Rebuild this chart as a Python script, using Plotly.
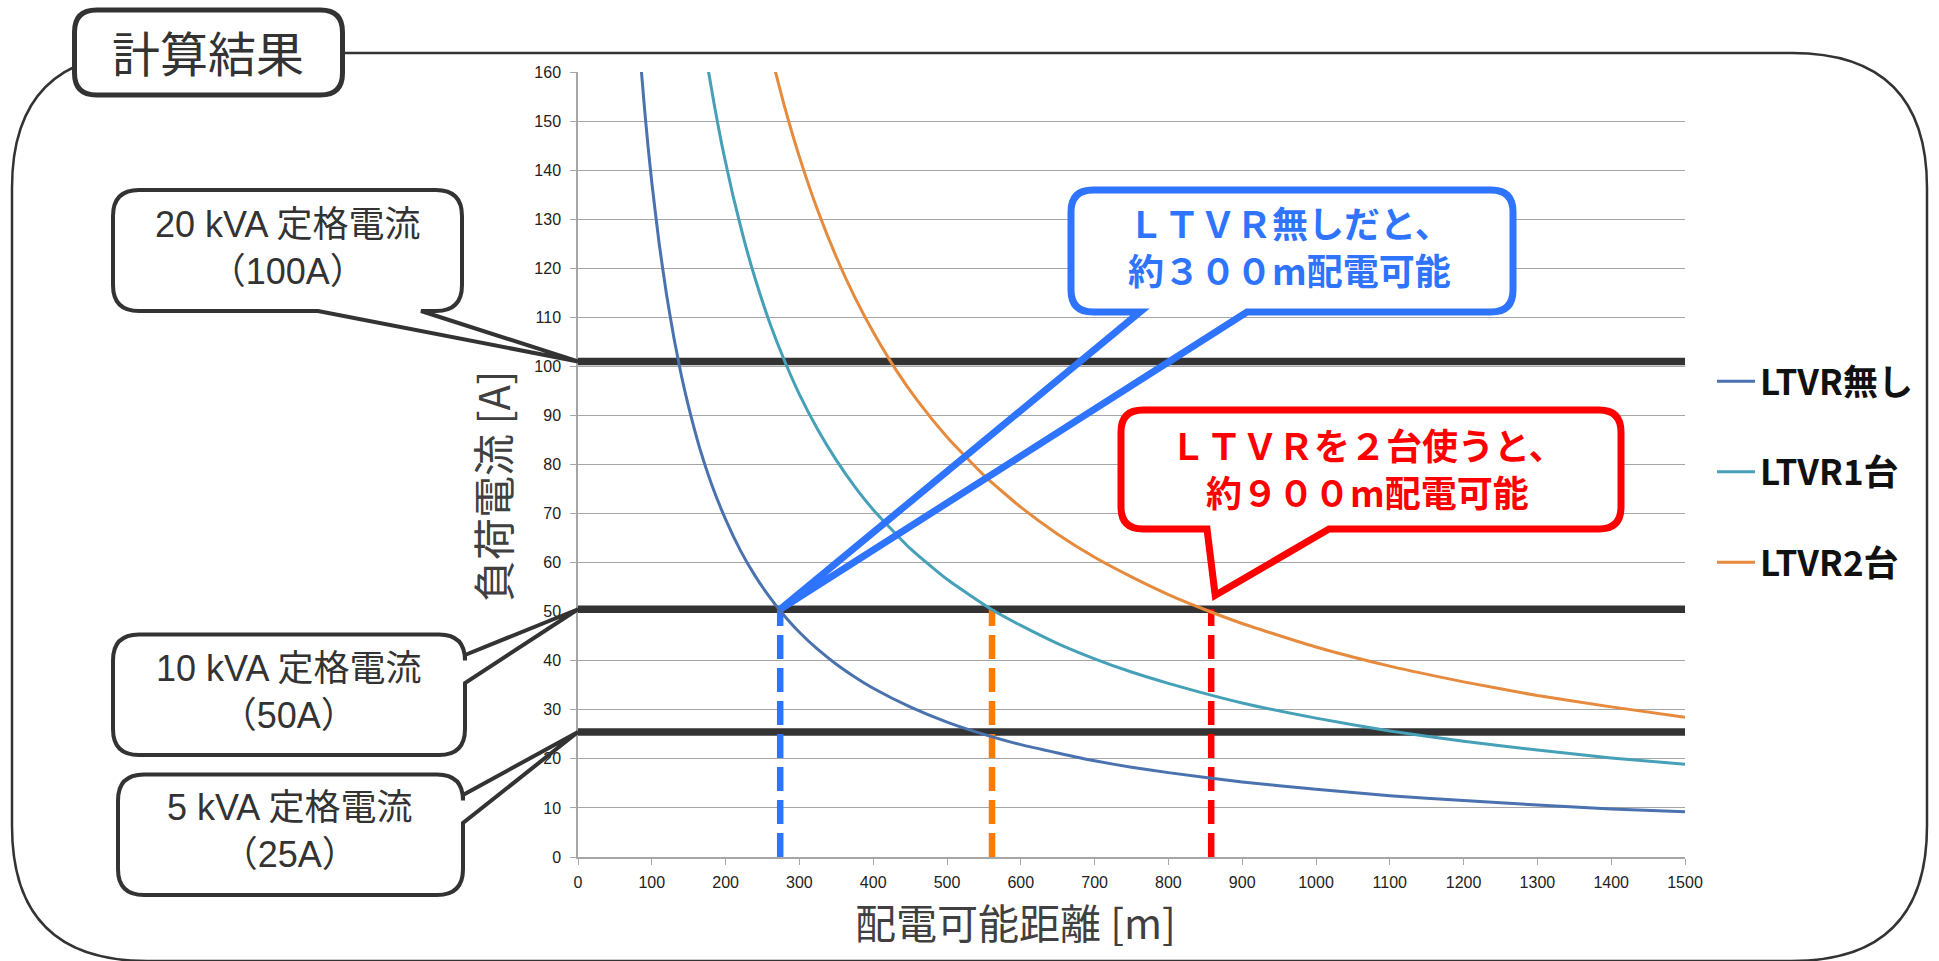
import plotly.graph_objects as go

# ---------------- data ----------------
series_names = ["LTVR無し", "LTVR1台", "LTVR2台"]

dist_none = [85, 90, 95, 100, 110, 120, 130, 140, 150, 165, 180, 200, 220, 240, 260, 275,
             300, 325, 350, 375, 400, 450, 500, 550, 600, 650, 700, 750, 800, 900, 1000,
             1100, 1200, 1300, 1400, 1500]
cur_none = [161.8, 152.8, 144.7, 137.5, 125, 114.6, 105.8, 98.2, 91.7, 83.3, 76.4, 68.8,
            62.5, 57.3, 52.9, 50, 45.8, 42.3, 39.3, 36.7, 34.4, 30.6, 27.5, 25, 22.9, 21.2,
            19.6, 18.3, 17.2, 15.3, 13.8, 12.5, 11.5, 10.6, 9.8, 9.2]

dist_one = [175, 185, 195, 210, 225, 240, 260, 280, 300, 325, 350, 375, 400, 450, 500, 560,
            600, 650, 700, 750, 800, 900, 1000, 1100, 1200, 1300, 1400, 1500]
cur_one = [161.7, 153, 145.1, 134.8, 125.8, 117.9, 108.8, 101.1, 94.3, 87.1, 80.9, 75.5,
           70.8, 62.9, 56.6, 50.5, 47.2, 43.5, 40.4, 37.7, 35.4, 31.4, 28.3, 25.7, 23.6,
           21.8, 20.2, 18.9]

dist_two = [265, 280, 300, 325, 350, 375, 400, 430, 460, 500, 550, 600, 650, 700, 750, 800,
            850, 900, 1000, 1100, 1200, 1300, 1400, 1500]
cur_two = [161.5, 152.9, 142.7, 131.7, 122.3, 114.1, 107, 99.5, 93, 85.6, 77.8, 71.3, 65.8,
           61.1, 57.1, 53.5, 50.4, 47.6, 42.8, 38.9, 35.7, 32.9, 30.6, 28.5]

rated_labels = ["20 kVA 定格電流<br>（100A）", "10 kVA 定格電流<br>（50A）", "5 kVA 定格電流<br>（25A）"]
rated_current = [101, 50.5, 25.5]          # thick black reference lines (as drawn)
reach_dist = [274, 561, 858]                # dashed vertical markers [m]
reach_colors = ["#2E74FF", "#FF7A00", "#FF0000"]

x_range = [0, 1500]
y_range = [0, 160]
x_ticks = list(range(0, 1501, 100))
y_ticks = list(range(0, 161, 10))

title_text = "計算結果"
x_title = "配電可能距離 [m]"
y_title = "負荷電流 [A]"
blue_msg = "ＬＴＶＲ無しだと、<br>約３００m配電可能"
red_msg = "ＬＴＶＲを２台使うと、<br>約９００m配電可能"

# ---------------- figure geometry ----------------
W, H = 1939, 961
L, R, T, B = 578, 1939 - 1685, 72, 961 - 857
PW, PH = W - L - R, H - T - B


def px2paper(X, Y):
    return (X - L) / PW, (H - B - Y) / PH


def P(X, Y):
    a, b = px2paper(X, Y)
    return f"{a:.5f},{b:.5f}"


def d2px(xv, yv):
    return L + xv / x_range[1] * PW, (H - B) - yv / y_range[1] * PH


def rrect(x0, y0, x1, y1, r, bottom_tail=None, right_tail=None):
    s = [f"M{P(x0 + r, y0)}", f"L{P(x1 - r, y0)}", f"Q{P(x1, y0)} {P(x1, y0 + r)}"]
    if right_tail:
        ya, yb, tip = right_tail
        s += [f"L{P(x1, ya)}", f"L{P(*tip)}", f"L{P(x1, yb)}"]
    s += [f"L{P(x1, y1 - r)}", f"Q{P(x1, y1)} {P(x1 - r, y1)}"]
    if bottom_tail:
        xa, xb, tip = bottom_tail  # xa left join, xb right join
        s += [f"L{P(xb, y1)}", f"L{P(*tip)}", f"L{P(xa, y1)}"]
    s += [f"L{P(x0 + r, y1)}", f"Q{P(x0, y1)} {P(x0, y1 - r)}",
          f"L{P(x0, y0 + r)}", f"Q{P(x0, y0)} {P(x0 + r, y0)}", "Z"]
    return " ".join(s)


fig = go.Figure()

# reference lines (rated currents)
for v in rated_current:
    fig.add_trace(go.Scatter(x=x_range, y=[v, v], mode="lines",
                             line=dict(color="#333333", width=7.5),
                             showlegend=False, hoverinfo="skip"))

# dashed markers
for d, c in zip(reach_dist, reach_colors):
    fig.add_trace(go.Scatter(x=[d, d], y=[0, rated_current[1]], mode="lines",
                             line=dict(color=c, width=6.5, dash="24px,9px"),
                             showlegend=False, hoverinfo="skip"))

curve_colors = ["#4A72AE", "#45A0B8", "#E68A3E"]
for name, xs, ys, c in zip(series_names, [dist_none, dist_one, dist_two],
                           [cur_none, cur_one, cur_two], curve_colors):
    fig.add_trace(go.Scatter(x=xs, y=ys, mode="lines", name=name, legendgroup=name,
                             line=dict(color=c, width=3, shape="spline", smoothing=0.5)))

shapes = []
# outer frame
shapes.append(dict(type="path", xref="paper", yref="paper", layer="below",
                   path=rrect(12, 53, 1927, 961, 135),
                   line=dict(color="#333333", width=2.5), fillcolor="rgba(0,0,0,0)"))
# header box
shapes.append(dict(type="path", xref="paper", yref="paper", layer="above",
                   path=rrect(74.5, 10, 342.5, 95, 22),
                   line=dict(color="#333333", width=5), fillcolor="white"))

# callouts: body fill then outline with tail
tip_blue = d2px(reach_dist[0], rated_current[1])
tip_red = d2px(reach_dist[2], rated_current[1])
tip_red = (tip_red[0] + 4, tip_red[1] - 14)
tip_a = d2px(0, rated_current[0])
tip_b = d2px(0, rated_current[1])
tip_c = d2px(0, rated_current[2])

callouts = [
    # (box, radius, color, width, bottom_tail, right_tail)
    ((113, 190, 462, 311), 26, "#333333", 4, (318, 421, tip_a), None),
    ((113, 634.5, 465, 755), 26, "#333333", 4, None, (655, 683, tip_b)),
    ((118, 774.5, 463, 895), 26, "#333333", 4, None, (795, 823, tip_c)),
    ((1071, 190, 1513, 312), 22, "#2E74FF", 7, (1140, 1247, tip_blue), None),
    ((1121, 410, 1621, 529), 22, "#FF0000", 7, (1207, 1329, tip_red), None),
]
for (x0, y0, x1, y1), r, col, w, bt, rt in callouts:
    shapes.append(dict(type="path", xref="paper", yref="paper", layer="above",
                       path=rrect(x0, y0, x1, y1, r),
                       line=dict(width=0), fillcolor="white"))
    shapes.append(dict(type="path", xref="paper", yref="paper", layer="above",
                       path=rrect(x0, y0, x1, y1, r, bottom_tail=bt, right_tail=rt),
                       line=dict(color=col, width=w), fillcolor="rgba(0,0,0,0)"))

annotations = []


def ann(text, X, Y, size, color, weight="normal", angle=0, family="Noto Sans CJK JP"):
    a, b = px2paper(X, Y)
    annotations.append(dict(text=text, x=a, y=b, xref="paper", yref="paper",
                            xanchor="center", yanchor="middle", showarrow=False,
                            textangle=angle, align="center",
                            font=dict(family=family, size=size, color=color, weight=weight)))


ann(title_text, 208, 51, 48, "#333333")
ann(x_title, 1015, 921, 41, "#404040")
ann(y_title, 491, 487, 42, "#404040", angle=-90)
ann(rated_labels[0], 287, 248, 36, "#333333", family="Liberation Sans, Noto Sans CJK JP")
ann(rated_labels[1], 288, 692, 36, "#333333", family="Liberation Sans, Noto Sans CJK JP")
ann(rated_labels[2], 289, 831, 36, "#333333", family="Liberation Sans, Noto Sans CJK JP")
ann(blue_msg, 1289, 246, 36, "#2E74FF", weight="bold")
ann(red_msg, 1367, 467, 36, "#FF0000", weight="bold")

lx, ly = px2paper(1712, 352)

fig.update_layout(
    width=W, height=H,
    margin=dict(l=L, r=R, t=T, b=B, autoexpand=False),
    paper_bgcolor="white", plot_bgcolor="white",
    shapes=shapes, annotations=annotations,
    hovermode=False,
    legend=dict(x=lx, y=ly, xanchor="left", yanchor="top", traceorder="grouped",
                tracegroupgap=42, itemwidth=38, bgcolor="rgba(0,0,0,0)",
                font=dict(family="Noto Sans CJK JP", size=35, color="#111111", weight="bold")),
    xaxis=dict(range=x_range, tickvals=x_ticks, ticks="outside", ticklen=6, tickwidth=1.3,
               tickcolor="#A6A6A6", showline=True, linecolor="#A6A6A6", linewidth=1.5,
               showgrid=False, zeroline=False, ticklabelstandoff=4,
               tickfont=dict(family="Liberation Sans", size=16, color="#222222")),
    yaxis=dict(range=y_range, tickvals=y_ticks, ticks="outside", ticklen=6, tickwidth=1.3,
               tickcolor="#A6A6A6", showline=True, linecolor="#A6A6A6", linewidth=1.5,
               showgrid=True, gridcolor="#A6A6A6", gridwidth=1.3, zeroline=False,
               ticklabelstandoff=6,
               tickfont=dict(family="Liberation Sans", size=16, color="#222222")),
)

fig.write_html("out.html", config={"displayModeBar": False},
               post_script="document.body.style.margin='0px';")
